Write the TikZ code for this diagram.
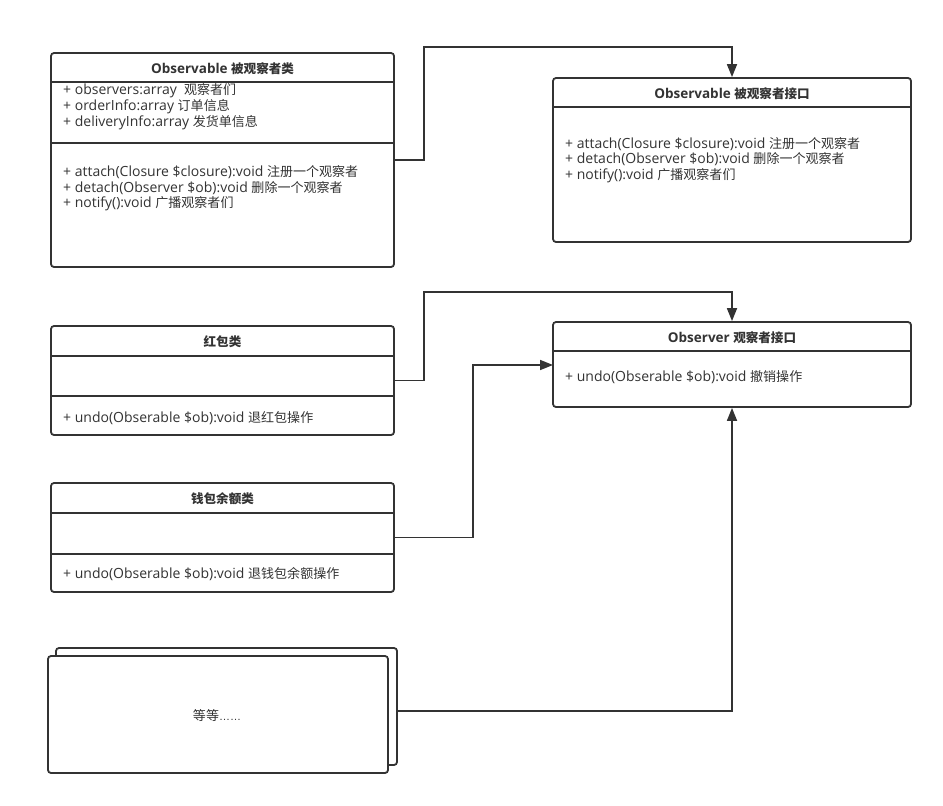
\documentclass[tikz,border=0pt]{standalone}
\usepackage{fontspec}
\setmainfont{Open Sans}
\newfontfamily\cjk[Scale=0.93]{Noto Sans CJK SC}
\newfontfamily\latinfont{Liberation Sans}
\usetikzlibrary{arrows.meta}
\definecolor{ln}{HTML}{333333}
\begin{document}
\begin{tikzpicture}[x=1pt,y=-1pt,
 box/.style={draw=ln, line width=1.8pt, rounded corners=3pt, fill=white, inner sep=0pt},
 ttl/.style={font=\fontsize{13.5}{15}\selectfont\bfseries, text=ln, inner sep=0pt},
 txt/.style={font=\fontsize{14}{16}\selectfont, text=ln, anchor=west, inner sep=0pt},
 conn/.style={draw=ln, line width=1.7pt, -{Triangle[length=13pt,width=10pt]}},
 sep/.style={draw=ln, line width=1.8pt}]
\useasboundingbox (0,0) rectangle (943,806);

% Observable class
\node[box, minimum width=343pt, minimum height=214pt] (c1) at (222.5,160) {};
\draw[sep] (c1.west |- 0,82) -- (c1.east |- 0,82);
\draw[sep] (c1.west |- 0,143) -- (c1.east |- 0,143);
\node[ttl] (c1t) at (222.5,68.5) {Observable {\cjk 被观察者类}};
\node[txt] (c1a) at (63,91) {+ observers:array\ \ {\cjk 观察者们}};
\node[txt] (c1b) at (63,107) {+ orderInfo:array {\cjk 订单信息}};
\node[txt] (c1c) at (63,123) {+ deliveryInfo:array {\cjk 发货单信息}};
\node[txt] (c1d) at (63,172) {+ attach(Closure \$closure):void {\cjk 注册一个观察者}};
\node[txt] (c1e) at (63,188) {+ detach(Observer \$ob):void {\cjk 删除一个观察者}};
\node[txt] (c1f) at (63,204) {+ notify():void {\cjk 广播观察者们}};

% Observable interface
\node[box, minimum width=358pt, minimum height=164pt] (i1) at (732,160) {};
\draw[sep] (i1.west |- 0,107) -- (i1.east |- 0,107);
\node[ttl] (i1t) at (732,93.5) {Observable {\cjk 被观察者接口}};
\node[txt] (i1a) at (565,144) {+ attach(Closure \$closure):void {\cjk 注册一个观察者}};
\node[txt] (i1b) at (565,159.5) {+ detach(Observer \$ob):void {\cjk 删除一个观察者}};
\node[txt] (i1c) at (565,176) {+ notify():void {\cjk 广播观察者们}};

% Red packet class
\node[box, minimum width=343pt, minimum height=109pt] (c2) at (222.5,380.5) {};
\draw[sep] (c2.west |- 0,356) -- (c2.east |- 0,356);
\draw[sep] (c2.west |- 0,396) -- (c2.east |- 0,396);
\node[ttl] (c2t) at (222.5,341.5) {\cjk 红包类};
\node[txt] (c2a) at (63,418) {+ undo(Obserable \$ob):void {\cjk 退红包操作}};

% Observer interface
\node[box, minimum width=358pt, minimum height=85pt] (o2) at (732,364.5) {};
\draw[sep] (o2.west |- 0,351) -- (o2.east |- 0,351);
\node[ttl] (o2t) at (732,337.5) {Observer {\cjk 观察者接口}};
\node[txt] (o2a) at (565,377) {+ undo(Obserable \$ob):void {\cjk 撤销操作}};

% Wallet class
\node[box, minimum width=343pt, minimum height=109pt] (c3) at (222.5,537.5) {};
\draw[sep] (c3.west |- 0,513) -- (c3.east |- 0,513);
\draw[sep] (c3.west |- 0,554) -- (c3.east |- 0,554);
\node[ttl] (c3t) at (222.5,498.5) {\cjk 钱包余额类};
\node[txt] (c3a) at (63,574.5) {+ undo(Obserable \$ob):void {\cjk 退钱包余额操作}};

% etc stacked boxes
\node[box, minimum width=341pt, minimum height=117pt] (e2) at (226.5,706.5) {};
\node[box, minimum width=340pt, minimum height=117pt] (e1) at (218,714.5) {};
\node[font=\fontsize{14}{16}\selectfont, text=ln, inner sep=0pt] (e1t) at (217,716) {{\cjk 等等}{\latinfont\fontsize{11}{12}\selectfont ……}};

% connectors
\coordinate (k1) at (424,160);
\coordinate (k2) at (424,47);
\draw[conn] (c1.east) -- (k1) -- (k2) -| (i1.north);

\coordinate (k3) at (424,380.5);
\coordinate (k4) at (424,292);
\draw[conn] (c2.east) -- (k3) -- (k4) -| (o2.north);

\coordinate (k5) at (473,537.5);
\coordinate (k6) at (553,365);
\draw[conn] (c3.east) -- (k5) |- (k6);

\coordinate (k7) at (397,711);
\draw[conn] (k7) -| (o2.south);
\end{tikzpicture}
\end{document}
